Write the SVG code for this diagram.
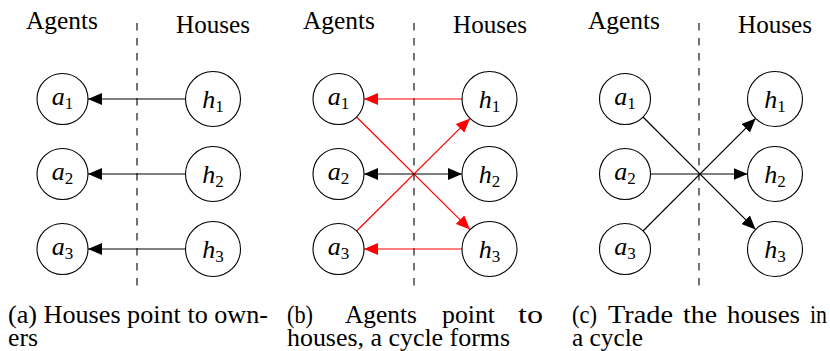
<svg xmlns="http://www.w3.org/2000/svg" width="830" height="351" viewBox="0 0 830 351" font-family="Liberation Serif, DejaVu Serif, serif">
<style>
.hdr{font-size:25px;text-anchor:middle;fill:#000}
.cap{font-size:26px;fill:#000}
.lbl{font-size:26px;font-style:italic;text-anchor:middle;fill:#000}
.sub{font-size:17px;font-style:normal}
.node{fill:#fff;stroke:#000;stroke-width:1.1}
.div{stroke:#000;stroke-width:1.1;stroke-dasharray:7.5 7.5;fill:none}
.bl{stroke:#000;stroke-width:1.2;fill:none}
.rd{stroke:#ff0000;stroke-width:1.2;fill:none}
</style>
<defs>
<marker id="ab" markerUnits="userSpaceOnUse" markerWidth="14" markerHeight="12" refX="14" refY="6" orient="auto-start-reverse" viewBox="0 0 14 12"><path d="M0,0 L14,6 L0,12 z" fill="#000"/></marker>
<marker id="ar" markerUnits="userSpaceOnUse" markerWidth="14" markerHeight="12" refX="14" refY="6" orient="auto" viewBox="0 0 14 12"><path d="M0,0 L14,6 L0,12 z" fill="#ff0000"/></marker>
</defs>

<g id="headers">
<text class="hdr" x="62" y="29" textLength="72" lengthAdjust="spacingAndGlyphs">Agents</text>
<text class="hdr" x="213" y="33" textLength="74" lengthAdjust="spacingAndGlyphs">Houses</text>
<text class="hdr" x="339" y="29" textLength="72" lengthAdjust="spacingAndGlyphs">Agents</text>
<text class="hdr" x="490" y="33" textLength="74" lengthAdjust="spacingAndGlyphs">Houses</text>
<text class="hdr" x="624" y="29" textLength="72" lengthAdjust="spacingAndGlyphs">Agents</text>
<text class="hdr" x="775" y="33" textLength="74" lengthAdjust="spacingAndGlyphs">Houses</text>
</g>

<g id="dividers">
<line class="div" x1="137" y1="23" x2="137" y2="290"/>
<line class="div" x1="414" y1="23" x2="414" y2="290"/>
<line class="div" x1="699" y1="23" x2="699" y2="290"/>
</g>

<g id="connectors">
<line class="bl" x1="185.5" y1="99" x2="88" y2="99" marker-end="url(#ab)"/>
<line class="bl" x1="185.5" y1="174" x2="88" y2="174" marker-end="url(#ab)"/>
<line class="bl" x1="185.5" y1="249" x2="88" y2="249" marker-end="url(#ab)"/>

<line class="rd" x1="462" y1="99" x2="364" y2="99" marker-end="url(#ar)"/>
<line class="rd" x1="462" y1="249" x2="364" y2="249" marker-end="url(#ar)"/>
<line class="rd" x1="356.6" y1="117" x2="470" y2="229.6" marker-end="url(#ar)"/>
<line class="rd" x1="356.6" y1="231" x2="470" y2="118.4" marker-end="url(#ar)"/>
<line class="bl" x1="364" y1="174" x2="462" y2="174" marker-start="url(#ab)" marker-end="url(#ab)"/>

<line class="bl" x1="643" y1="117" x2="755.6" y2="229.6" marker-end="url(#ab)"/>
<line class="bl" x1="643" y1="231" x2="755.6" y2="118.4" marker-end="url(#ab)"/>
<line class="bl" x1="650.5" y1="174" x2="747.5" y2="174" marker-end="url(#ab)"/>
</g>

<g id="pa-a1"><circle class="node" cx="62.5" cy="99" r="25.5"/><text class="lbl" x="62.5" y="105">a<tspan class="sub" dy="4">1</tspan></text></g>
<g id="pa-a2"><circle class="node" cx="62.5" cy="174" r="25.5"/><text class="lbl" x="62.5" y="180">a<tspan class="sub" dy="4">2</tspan></text></g>
<g id="pa-a3"><circle class="node" cx="62.5" cy="249" r="25.5"/><text class="lbl" x="62.5" y="255">a<tspan class="sub" dy="4">3</tspan></text></g>
<g id="pa-h1"><circle class="node" cx="213" cy="99" r="27.5"/><text class="lbl" x="213" y="108">h<tspan class="sub" dy="4">1</tspan></text></g>
<g id="pa-h2"><circle class="node" cx="213" cy="174" r="27.5"/><text class="lbl" x="213" y="183">h<tspan class="sub" dy="4">2</tspan></text></g>
<g id="pa-h3"><circle class="node" cx="213" cy="249" r="27.5"/><text class="lbl" x="213" y="258">h<tspan class="sub" dy="4">3</tspan></text></g>

<g id="pb-a1"><circle class="node" cx="338.5" cy="99" r="25.5"/><text class="lbl" x="338.5" y="105">a<tspan class="sub" dy="4">1</tspan></text></g>
<g id="pb-a2"><circle class="node" cx="338.5" cy="174" r="25.5"/><text class="lbl" x="338.5" y="180">a<tspan class="sub" dy="4">2</tspan></text></g>
<g id="pb-a3"><circle class="node" cx="338.5" cy="249" r="25.5"/><text class="lbl" x="338.5" y="255">a<tspan class="sub" dy="4">3</tspan></text></g>
<g id="pb-h1"><circle class="node" cx="489.5" cy="99" r="27.5"/><text class="lbl" x="489.5" y="108">h<tspan class="sub" dy="4">1</tspan></text></g>
<g id="pb-h2"><circle class="node" cx="489.5" cy="174" r="27.5"/><text class="lbl" x="489.5" y="183">h<tspan class="sub" dy="4">2</tspan></text></g>
<g id="pb-h3"><circle class="node" cx="489.5" cy="249" r="27.5"/><text class="lbl" x="489.5" y="258">h<tspan class="sub" dy="4">3</tspan></text></g>

<g id="pc-a1"><circle class="node" cx="625" cy="99" r="25.5"/><text class="lbl" x="625" y="105">a<tspan class="sub" dy="4">1</tspan></text></g>
<g id="pc-a2"><circle class="node" cx="625" cy="174" r="25.5"/><text class="lbl" x="625" y="180">a<tspan class="sub" dy="4">2</tspan></text></g>
<g id="pc-a3"><circle class="node" cx="625" cy="249" r="25.5"/><text class="lbl" x="625" y="255">a<tspan class="sub" dy="4">3</tspan></text></g>
<g id="pc-h1"><circle class="node" cx="775" cy="99" r="27.5"/><text class="lbl" x="775" y="108">h<tspan class="sub" dy="4">1</tspan></text></g>
<g id="pc-h2"><circle class="node" cx="775" cy="174" r="27.5"/><text class="lbl" x="775" y="183">h<tspan class="sub" dy="4">2</tspan></text></g>
<g id="pc-h3"><circle class="node" cx="775" cy="249" r="27.5"/><text class="lbl" x="775" y="258">h<tspan class="sub" dy="4">3</tspan></text></g>

<g id="captions">
<text class="cap" x="8" y="323" textLength="260" lengthAdjust="spacingAndGlyphs">(a) Houses point to own-</text>
<text class="cap" x="8" y="346" textLength="30" lengthAdjust="spacingAndGlyphs">ers</text>
<text class="cap" x="287" y="323" textLength="26" lengthAdjust="spacingAndGlyphs">(b)</text>
<text class="cap" x="345" y="323" textLength="72" lengthAdjust="spacingAndGlyphs">Agents</text>
<text class="cap" x="442" y="323" textLength="53" lengthAdjust="spacingAndGlyphs">point</text>
<text class="cap" x="518" y="323" textLength="25" lengthAdjust="spacingAndGlyphs">to</text>
<text class="cap" x="287" y="346" textLength="223" lengthAdjust="spacingAndGlyphs">houses, a cycle forms</text>
<text class="cap" x="572" y="323" textLength="25" lengthAdjust="spacingAndGlyphs">(c)</text>
<text class="cap" x="608" y="323" textLength="65" lengthAdjust="spacingAndGlyphs">Trade</text>
<text class="cap" x="683" y="323" textLength="34" lengthAdjust="spacingAndGlyphs">the</text>
<text class="cap" x="727" y="323" textLength="73" lengthAdjust="spacingAndGlyphs">houses</text>
<text class="cap" x="810" y="323" textLength="17" lengthAdjust="spacingAndGlyphs">in</text>
<text class="cap" x="572" y="346" textLength="71" lengthAdjust="spacingAndGlyphs">a cycle</text>
</g>
</svg>
